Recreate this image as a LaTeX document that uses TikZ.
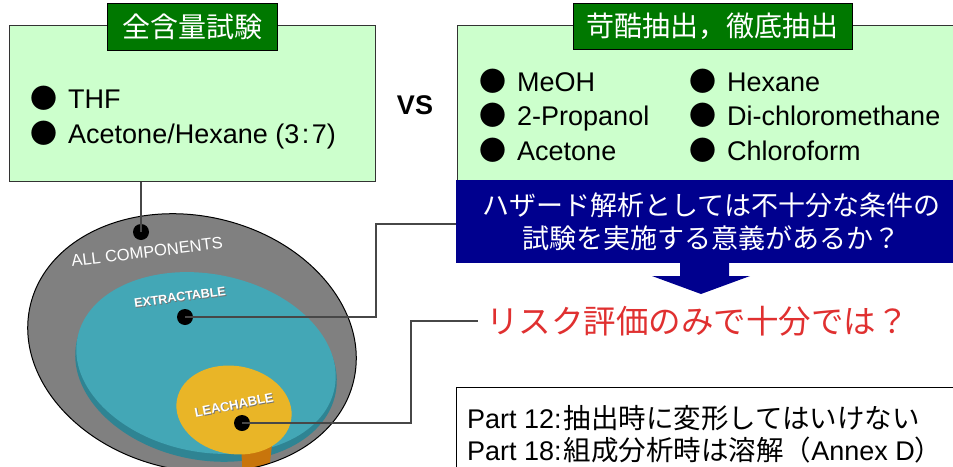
\documentclass[tikz,border=0pt]{standalone}
\usepackage{fontspec}
\setmainfont{Liberation Sans}
\newfontfamily\cjk{Noto Sans CJK JP}
\newfontfamily\labelfont{Liberation Sans}
\usetikzlibrary{calc}
\definecolor{boxgreen}{HTML}{CCFFCC}
\definecolor{titlegreen}{HTML}{007800}
\definecolor{navyblue}{HTML}{00008E}
\definecolor{riskred}{HTML}{E03030}
\definecolor{diskgray}{HTML}{808080}
\definecolor{disktop}{HTML}{43A7B6}
\definecolor{diskrim}{HTML}{2F8493}
\definecolor{leachyellow}{HTML}{E9B527}
\definecolor{leachdrip}{HTML}{C8750C}
\newcommand\bul{\makebox[38pt][l]{\cjk ●}}
\begin{document}
\begin{tikzpicture}[x=1pt,y=1pt,
  conn/.style={draw=black!72, line width=1.3pt},
  panel/.style={draw=black!80, line width=1pt, fill=boxgreen, anchor=north west, inner sep=0pt},
  titlebox/.style={draw=black, line width=1pt, fill=titlegreen, text=white, inner sep=0pt,
    font=\cjk\fontsize{28}{30}\selectfont},
  listitem/.style={anchor=base west, inner sep=0pt, font=\fontsize{27}{30}\selectfont},
  dot/.style={circle, fill=black, minimum size=16pt, inner sep=0pt},
  disklabel/.style={text=white, inner sep=0pt},
  labelshadow/.style={text=black!55, inner sep=0pt},
]
\useasboundingbox (0,0) rectangle (953,-466);
\clip (0,0) rectangle (953,-466);
\fill[white] (0,0) rectangle (953,-466);

% ---- nested disks
\fill[diskgray, rotate around={-13:(192,-343)}]
  (192,-343) ellipse [x radius=166, y radius=127];
\begin{scope}
  \clip[rotate around={-13:(192,-343)}] (192,-343) ellipse [x radius=166, y radius=127];
  \fill[diskrim, rotate around={-11:(206,-368)}]
    (206,-368) ellipse [x radius=132, y radius=92];
  \fill[disktop, rotate around={-11:(206,-363)}]
    (206,-363) ellipse [x radius=131, y radius=89];
  \fill[leachdrip] (241,-445) -- (272,-445) -- (268,-480) -- (243,-480) -- cycle;
\end{scope}
\draw[line width=1pt, rotate around={-13:(192,-343)}]
  (192,-343) ellipse [x radius=166, y radius=127];
\fill[leachyellow, rotate around={-10:(234,-410)}]
  (234,-410) ellipse [x radius=58, y radius=44];

\node[disklabel, rotate=7, font=\labelfont\fontsize{16.5}{17}\selectfont] (lall) at (147,-252) {ALL COMPONENTS};
\node[labelshadow, rotate=7.5, font=\labelfont\bfseries\fontsize{12.5}{13}\selectfont] (lexs) at (180.8,-297.9) {EXTRACTABLE};
\node[disklabel, rotate=7.5, font=\labelfont\bfseries\fontsize{12.5}{13}\selectfont] (lex) at (180,-297) {EXTRACTABLE};
\node[labelshadow, rotate=11, font=\labelfont\bfseries\fontsize{13}{13}\selectfont] (lles) at (234.8,-405.9) {LEACHABLE};
\node[disklabel, rotate=11, font=\labelfont\bfseries\fontsize{13}{13}\selectfont] (lle) at (234,-405) {LEACHABLE};

\node[dot] (dA) at (141,-232) {};
\node[dot] (dB) at (185,-317) {};
\node[dot] (dC) at (242,-423) {};

% ---- left panel: total content test
\node[panel, minimum width=366pt, minimum height=156pt] (p1) at (9,-25) {};
\node[titlebox, minimum width=170pt, minimum height=47pt] (t1) at (192,-26.5) {全含量試験};
\node[listitem] (p1a) at (30,-108) {\bul THF};
\node[listitem] (p1b) at (30,-143) {\bul Acetone/Hexane (3\hspace{2.5pt}:\hspace{2.5pt}7)};

\node[font=\labelfont\bfseries\fontsize{27}{27}\selectfont, inner sep=0pt] (vs) at (415,-105) {VS};

% ---- right panel: exaggerated / exhaustive extraction
\node[panel, minimum width=520pt, minimum height=170pt] (p2) at (457,-25) {};
\node[titlebox, minimum width=279pt, minimum height=46pt] (t2) at (712.5,-26) {苛酷抽出，徹底抽出};
\node[listitem] (s1) at (479,-91) {\bul MeOH};
\node[listitem] (s2) at (479,-125) {\bul 2-Propanol};
\node[listitem] (s3) at (479,-160) {\bul Acetone};
\node[listitem] (s4) at (689,-91) {\bul Hexane};
\node[listitem] (s5) at (689,-125) {\bul Di-chloromethane};
\node[listitem] (s6) at (689,-160) {\bul Chloroform};

\node[fill=navyblue, text=white, anchor=north west, minimum width=510pt, minimum height=83pt,
  align=center, inner sep=0pt, font=\cjk\fontsize{27}{33}\selectfont] (q) at (456,-180)
  {ハザード解析としては不十分な条件の\\試験を実施する意義があるか？};

% block arrow down to the conclusion
\fill[navyblue] (680,-262) -- (729,-262) -- (729,-276) -- (750,-276) -- (701,-294)
  -- (652,-276) -- (680,-276) -- cycle;

\node[text=riskred, anchor=west, inner sep=0pt, font=\cjk\fontsize{32.5}{34}\selectfont] (r) at (486,-321)
  {リスク評価のみで十分では？};

% ---- standards note
\node[draw=black, line width=1pt, fill=white, anchor=north west, minimum width=520pt,
  minimum height=100pt] (n) at (456,-387) {};
\node[listitem] (n1) at (467,-428) {Part 12:\hspace{2pt}{\cjk\fontsize{27.5}{30}\selectfont 抽出時に変形してはいけない}};
\node[listitem] (n2) at (467,-460) {Part 18:\hspace{2pt}{\cjk\fontsize{27.5}{30}\selectfont 組成分析時は溶解（}Annex D{\cjk\fontsize{27.5}{30}\selectfont ）}};

% ---- connectors
\coordinate (kB) at (376,-224);
\coordinate (kC) at (411,-321);
\draw[conn] (p1.south -| dA) -- (dA.center);
\draw[conn] (dB.center) -| (kB) -- (kB -| q.west);
\draw[conn] (dC.center) -| (kC) -- ([xshift=-8pt]r.west);
\end{tikzpicture}
\end{document}
